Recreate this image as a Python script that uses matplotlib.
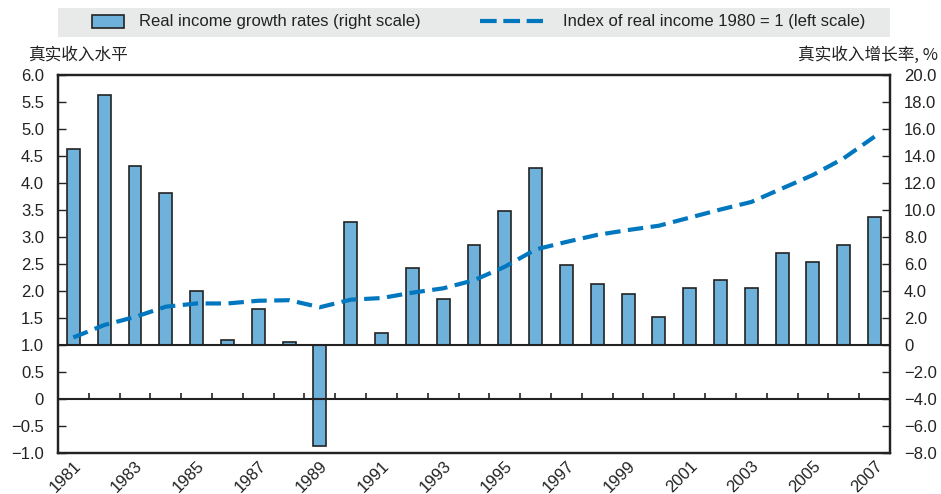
import numpy as np
import matplotlib
matplotlib.use("Agg")
import matplotlib.pyplot as plt
from matplotlib.patches import Rectangle
from matplotlib.lines import Line2D
from matplotlib.ticker import FuncFormatter, MultipleLocator

plt.rcParams['font.family'] = ['Liberation Sans Narrow', 'Liberation Sans', 'DejaVu Sans']
plt.rcParams['axes.unicode_minus'] = True

years = list(range(1981, 2008))
# growth rates, % (right scale)
growth = [14.5, 18.5, 13.3, 11.3, 4.0, 0.4, 2.7, 0.25, -7.5, 9.1,
          0.9, 5.7, 3.4, 7.4, 9.95, 13.1, 5.9, 4.5, 3.75, 2.1,
          4.2, 4.8, 4.25, 6.8, 6.15, 7.4, 9.5]
# index of real income, 1980 = 1 (left scale)
index = [1.14, 1.37, 1.52, 1.71, 1.77, 1.77, 1.82, 1.83, 1.70, 1.84,
         1.87, 1.97, 2.05, 2.20, 2.45, 2.77, 2.91, 3.04, 3.13, 3.21,
         3.36, 3.51, 3.65, 3.90, 4.15, 4.46, 4.86]

lbl_bar = 'Real income growth rates (right scale)'
lbl_line = 'Index of real income 1980 = 1 (left scale)'
lbl_left = '真实收入水平'
lbl_right = '真实收入增长率, %'

BG = '#e5f0f8'
BAR = '#6eb1da'
LINE = '#0077be'
INK = '#222222'
CJK = ['Noto Sans CJK SC', 'DejaVu Sans']

W, H = 941, 494
fig = plt.figure(figsize=(W / 100, H / 100), dpi=100)
ax = fig.add_axes([0.0616, 0.083, 0.8842, 0.765])
ax2 = ax.twinx()
ax.set_zorder(ax2.get_zorder() + 1)
ax.patch.set_visible(False)
ax2.patch.set_facecolor(BG)

x = np.arange(len(years))

# bars on the right scale
ax2.bar(x, growth, width=0.42, color=BAR, edgecolor=INK, linewidth=1.2, zorder=3)
ax2.set_ylim(-8, 20)
ax2.yaxis.set_major_locator(MultipleLocator(2))
ax2.axhline(0, color=INK, lw=1.5, zorder=4)

# line on the left scale
ax.plot(x, index, color=LINE, lw=3, dashes=(3.7, 1.8), zorder=5)
ax.set_ylim(-1, 6)
ax.yaxis.set_major_locator(MultipleLocator(0.5))
ax.axhline(0, color=INK, lw=1.5, zorder=4)
ax.vlines(np.arange(0.5, len(years) - 1), 0, 0.12, color=INK, lw=1.2, zorder=4)

ax.set_xlim(-0.5, len(years) - 0.5)

# white grid
for v in np.arange(-8, 20, 2):
    ax2.axhline(v, color='white', lw=1.3, zorder=1)
for b in np.arange(0.5, len(years) - 1):
    ax2.axvline(b, color='white', lw=1.3, zorder=1)

def fmt(v, pos):
    if abs(v) < 1e-9:
        return '0'
    return f'{v:.1f}'.replace('-', '\u2212')

ax.yaxis.set_major_formatter(FuncFormatter(fmt))
ax2.yaxis.set_major_formatter(FuncFormatter(fmt))
for a in (ax, ax2):
    a.tick_params(axis='y', direction='in', length=6, width=1, pad=10, labelsize=12, colors=INK)
    for s in a.spines.values():
        s.set_linewidth(1.6)
        s.set_color(INK)

odd = [i for i, y in enumerate(years) if y % 2 == 1]
ax.set_xticks(odd)
ax.set_xticklabels([str(years[i]) for i in odd], rotation=45, ha='right',
                   rotation_mode='anchor', fontsize=12, color=INK)
ax.tick_params(axis='x', length=0, pad=4)

# legend band drawn by hand
fig.patches.append(Rectangle((58 / W, 1 - 37 / H), 832 / W, 29 / H, transform=fig.transFigure,
                             facecolor='#e8e9e9', edgecolor='none', zorder=0))
fig.patches.append(Rectangle((92 / W, 1 - 28 / H), 32 / W, 13 / H, transform=fig.transFigure,
                             facecolor=BAR, edgecolor=INK, linewidth=1.2, zorder=2))
fig.lines.append(Line2D([480 / W, 543 / W], [1 - 21.5 / H] * 2, transform=fig.transFigure,
                        color=LINE, lw=3, dashes=(4.0, 1.6), zorder=2))
fig.text(139 / W, 1 - 21.5 / H, lbl_bar, fontsize=12, va='center', ha='left', color=INK)
fig.text(563 / W, 1 - 21.5 / H, lbl_line, fontsize=12, va='center', ha='left', color=INK)

fig.text(28 / W, 1 - 55 / H, lbl_left, family=CJK, fontsize=12, va='center', ha='left', color=INK)
fig.text(938 / W, 1 - 55 / H, lbl_right, family=CJK, fontsize=12, va='center', ha='right', color=INK)

fig.savefig('out.png', dpi=100)
